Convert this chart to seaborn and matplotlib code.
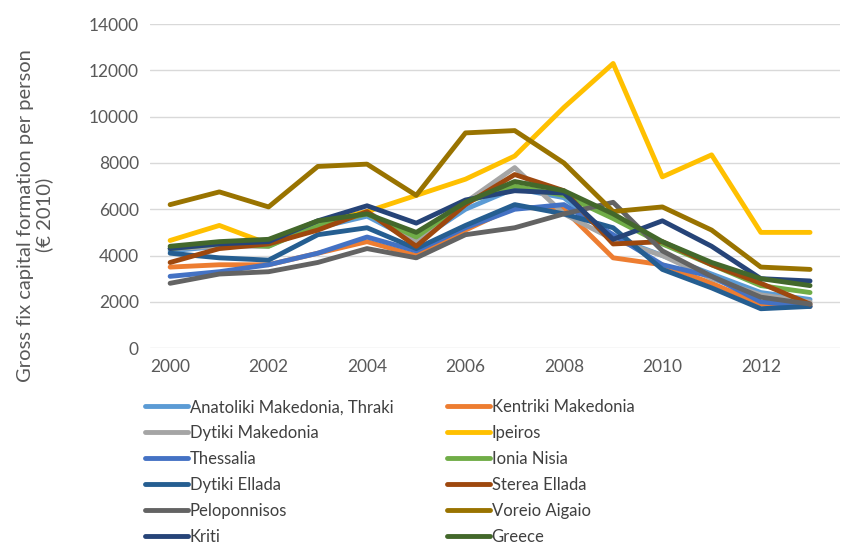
import pandas as pd
import matplotlib.pyplot as plt
import seaborn as sns

# Data
years = list(range(2000, 2014))

anatoliki = [4200, 4400, 4500, 5200, 5700, 4600, 6000, 6900, 6500, 4800, 4000, 3200, 2400, 2100]
kentriki = [3500, 3600, 3600, 4100, 4600, 4000, 5100, 6100, 6000, 3900, 3600, 2800, 1900, 1800]
dytiki_mak = [4300, 4400, 4400, 5400, 5900, 4600, 6300, 7800, 5800, 4700, 4000, 3000, 2300, 2000]
ipeiros = [4650, 5300, 4500, 5400, 5900, 6600, 7300, 8300, 10400, 12300, 7400, 8350, 5000, 5000]
thessalia = [3100, 3300, 3600, 4100, 4800, 4200, 5200, 6000, 6200, 4900, 3600, 3100, 2000, 1800]
ionia = [4300, 4500, 4400, 5300, 5800, 4800, 6300, 7000, 6600, 5600, 4500, 3600, 2700, 2400]
dytiki_ell = [4100, 3900, 3800, 4900, 5200, 4300, 5300, 6200, 5800, 5200, 3400, 2600, 1700, 1800]
sterea = [3700, 4300, 4500, 5100, 5900, 4400, 6200, 7500, 6800, 4500, 4600, 3600, 2800, 1900]
pelop = [2800, 3200, 3300, 3700, 4300, 3900, 4900, 5200, 5800, 6300, 4200, 3100, 2200, 1900]
voreio = [6200, 6750, 6100, 7850, 7950, 6600, 9300, 9400, 8000, 5900, 6100, 5100, 3500, 3400]
kriti = [4300, 4500, 4600, 5500, 6150, 5400, 6400, 6800, 6700, 4700, 5500, 4400, 3000, 2900]
greece = [4400, 4600, 4700, 5500, 5800, 5000, 6300, 7200, 6800, 5800, 4600, 3700, 3000, 2700]

regions = ["Anatoliki Makedonia, Thraki", "Kentriki Makedonia", "Dytiki Makedonia",
           "Ipeiros", "Thessalia", "Ionia Nisia", "Dytiki Ellada", "Sterea Ellada",
           "Peloponnisos", "Voreio Aigaio", "Kriti", "Greece"]
series = [anatoliki, kentriki, dytiki_mak, ipeiros, thessalia, ionia,
          dytiki_ell, sterea, pelop, voreio, kriti, greece]
colors = ["#5B9BD5", "#ED7D31", "#A5A5A5", "#FFC000", "#4472C4", "#70AD47",
          "#255E91", "#9E480E", "#636363", "#997300", "#264478", "#43682B"]

rows = []
for name, vals in zip(regions, series):
    for y, v in zip(years, vals):
        rows.append({"year": y, "value": v, "region": name})
df = pd.DataFrame(rows)

sns.set_style("white")
plt.rcParams["font.family"] = ["Lato", "DejaVu Sans"]

fig = plt.figure(figsize=(8.52, 5.49), dpi=100)
ax = fig.add_axes([0.176, 0.366, 0.81, 0.59])

sns.lineplot(data=df, x="year", y="value", hue="region", hue_order=regions,
             palette=dict(zip(regions, colors)), linewidth=3.5, ax=ax, legend=True)

ax.set_xlim(1999.59, 2013.61)
ax.set_ylim(0, 14000)
ax.set_xticks(range(2000, 2014, 2))
ax.set_yticks(range(0, 14001, 2000))
ax.yaxis.grid(True, color="#D9D9D9", linewidth=1)
ax.set_axisbelow(True)
for s in ax.spines.values():
    s.set_visible(False)
ax.tick_params(axis="both", colors="#595959", labelsize=12.5, length=0, pad=8)
ax.set_xlabel("")
ax.set_ylabel("Gross fix capital formation per person\n(€ 2010)", fontsize=14.5,
              color="#595959", linespacing=1.1)
ax.yaxis.set_label_coords(-0.14, 0.41)

handles, labels = ax.get_legend_handles_labels()
ax.get_legend().remove()
order = [0, 2, 4, 6, 8, 10, 1, 3, 5, 7, 9, 11]
leg = fig.legend([handles[i] for i in order], [labels[i] for i in order],
                 ncol=2, loc="upper left", bbox_to_anchor=(0.162, 0.285),
                 frameon=False, fontsize=12, handlelength=2.6, handletextpad=0.1,
                 columnspacing=3.2, labelspacing=0.6, borderaxespad=0)
for t in leg.get_texts():
    t.set_color("#404040")
for h in leg.get_lines():
    h.set_linewidth(3.5)

fig.savefig("out.png", dpi=100)
